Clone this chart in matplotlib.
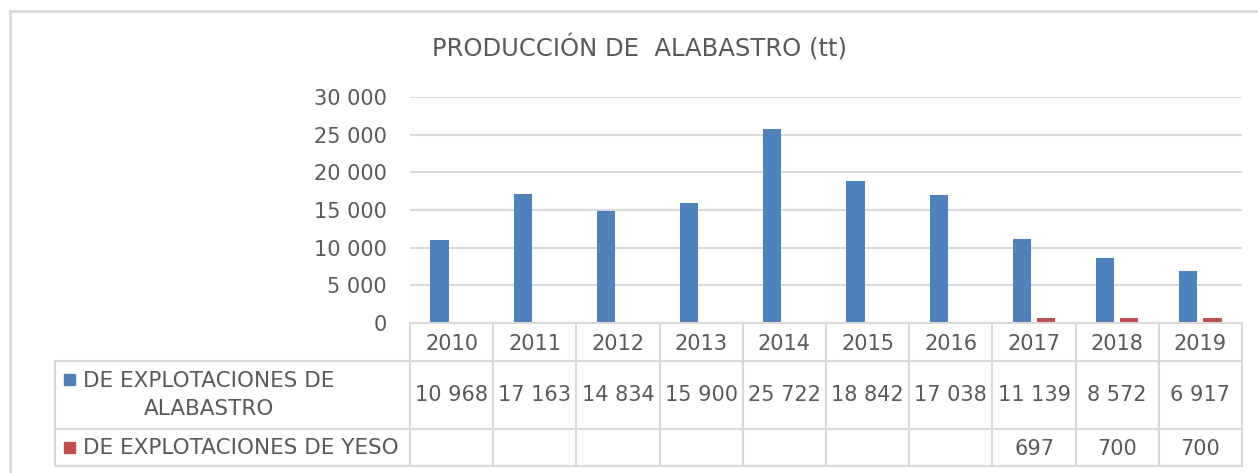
import matplotlib

matplotlib.use("Agg")
import matplotlib.pyplot as plt
from matplotlib.lines import Line2D
from matplotlib.patches import Rectangle

# ---- data ---------------------------------------------------------------
years = ["2010", "2011", "2012", "2013", "2014", "2015", "2016", "2017", "2018", "2019"]
alabastro = [10968, 17163, 14834, 15900, 25722, 18842, 17038, 11139, 8572, 6917]
yeso = [None, None, None, None, None, None, None, 697, 700, 700]
series_names = ["DE EXPLOTACIONES DE\nALABASTRO", "DE EXPLOTACIONES DE YESO"]
yticks = [0, 5000, 10000, 15000, 20000, 25000, 30000]
title = "PRODUCCIÓN DE  ALABASTRO (tt)"

BLUE = "#4F81BD"
RED = "#C0504D"
TEXT = "#595959"
GRID = "#D9D9D9"

W, H = 1258, 473
fig = plt.figure(figsize=(W / 100, H / 100), dpi=100)


def fx(x):
    return x / W


def fy(y):
    return 1 - y / H


def fmt(v):
    return f"{v:,}".replace(",", " ")


# plot area in pixel coordinates of the reference
X0, X1 = 410, 1242
Y_TOP, Y_BASE = 97, 323
ax = fig.add_axes([fx(X0), fy(Y_BASE), fx(X1) - fx(X0), fy(Y_TOP) - fy(Y_BASE)])

n = len(years)
xs = list(range(n))
bw = 0.22
ax.bar([x - 0.145 for x in xs], alabastro, width=bw, color=BLUE, zorder=3)
ax.bar([x + 0.145 for x in xs], [v if v is not None else 0 for v in yeso],
       width=bw, color=RED, zorder=3)

ax.set_xlim(-0.5, n - 0.5)
ax.set_ylim(0, 30000)
ax.set_yticks(yticks)
ax.set_yticklabels([fmt(v) for v in yticks], fontsize=15, color=TEXT)
ax.set_xticks([])
ax.tick_params(axis="y", length=0, pad=17)
ax.grid(axis="y", color=GRID, linewidth=1.5, zorder=0)
for s in ax.spines.values():
    s.set_visible(False)

fig.text(fx(640), fy(48), title, ha="center", va="center",
         fontsize=17.5, color=TEXT)

# outer chart frame
fig.add_artist(Line2D([fx(10), fx(10)], [fy(11), fy(H + 5)],
                      transform=fig.transFigure, color=GRID, lw=2))
fig.add_artist(Line2D([fx(10), fx(W + 5)], [fy(11), fy(11)],
                      transform=fig.transFigure, color=GRID, lw=2))

# ---- data table ---------------------------------------------------------
rows_y = [323, 361, 429, 466]
LX = 55
col_w = (X1 - X0) / n


def hline(y, x_start, x_end):
    fig.add_artist(Line2D([fx(x_start), fx(x_end)], [fy(y), fy(y)],
                          transform=fig.transFigure, color=GRID, lw=1.5))


def vline(x, y_start, y_end):
    fig.add_artist(Line2D([fx(x), fx(x)], [fy(y_start), fy(y_end)],
                          transform=fig.transFigure, color=GRID, lw=1.5))


hline(rows_y[0], X0, X1)
for y in rows_y[1:]:
    hline(y, LX, X1)
vline(LX, rows_y[1], rows_y[3])
for i in range(n + 1):
    vline(X0 + i * col_w, rows_y[0], rows_y[3])

for i, yr in enumerate(years):
    cx = X0 + (i + 0.5) * col_w
    fig.text(fx(cx), fy((rows_y[0] + rows_y[1]) / 2 + 2), yr,
             ha="center", va="center", fontsize=15, color=TEXT)
    fig.text(fx(cx), fy((rows_y[1] + rows_y[2]) / 2), fmt(alabastro[i]),
             ha="center", va="center", fontsize=15, color=TEXT)
    if yeso[i] is not None:
        fig.text(fx(cx), fy((rows_y[2] + rows_y[3]) / 2 + 1), fmt(yeso[i]),
                 ha="center", va="center", fontsize=15, color=TEXT)

# legend keys + series names
for (name, color, ky, ty) in [(series_names[0], BLUE, 380, 395),
                              (series_names[1], RED, 448, 448)]:
    fig.add_artist(Rectangle((fx(64), fy(ky + 5)), fx(11), fx(11) * W / H,
                             transform=fig.transFigure, color=color))
    fig.text(fx(83), fy(ty), name, ha="left", va="center", fontsize=15.5,
             color=TEXT, multialignment="center", linespacing=1.45)

fig.savefig("out.png", dpi=100)
